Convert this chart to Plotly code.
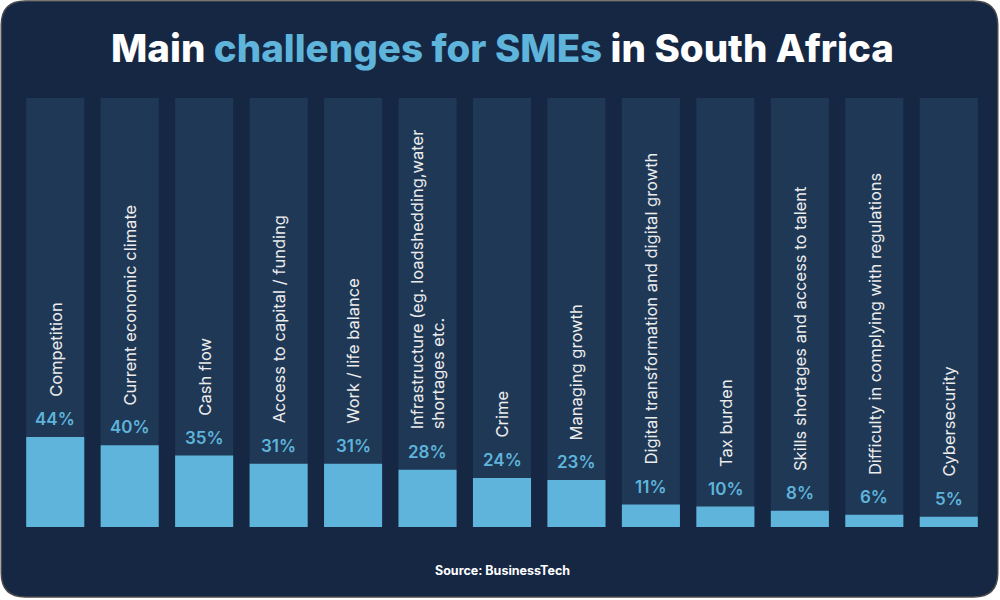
import plotly.graph_objects as go

categories = [
    "Competition",
    "Current economic climate",
    "Cash flow",
    "Access to capital / funding",
    "Work / life balance",
    "Infrastructure (eg. loadshedding,water<br>shortages etc.",
    "Crime",
    "Managing growth",
    "Digital transformation and digital growth",
    "Tax burden",
    "Skills shortages and access to talent",
    "Difficulty in complying with regulations",
    "Cybersecurity",
]
values = [44, 40, 35, 31, 31, 28, 24, 23, 11, 10, 8, 6, 5]
y_max = 210

W, H = 1000, 600
ML, MR, MT, MB = 17.75, 13.75, 98, 73
PW, PH = W - ML - MR, H - MT - MB

def px_x(X):
    return (X - ML) / PW

def px_y(Y):
    return (H - MB - Y) / PH

CARD = "#162744"
COL_BG = "#1f3856"
BAR = "#5eb4da"

x_idx = list(range(len(categories)))

fig = go.Figure()
fig.add_trace(go.Bar(x=x_idx, y=[y_max] * len(categories), marker_color=COL_BG,
                     marker_line_width=0, width=0.78, hoverinfo="skip"))
fig.add_trace(go.Bar(x=x_idx, y=values, marker_color=BAR, marker_line_width=0,
                     width=0.78, hovertext=categories))

# rounded card
x0, y0, x1, y1, r = 1, 1, 998, 597, 24
def P(X, Y):
    return f"{px_x(X):.5f},{px_y(Y):.5f}"
path = (f"M {P(x0 + r, y0)} L {P(x1 - r, y0)} Q {P(x1, y0)} {P(x1, y0 + r)} "
        f"L {P(x1, y1 - r)} Q {P(x1, y1)} {P(x1 - r, y1)} L {P(x0 + r, y1)} "
        f"Q {P(x0, y1)} {P(x0, y1 - r)} L {P(x0, y0 + r)} Q {P(x0, y0)} {P(x0 + r, y0)} Z")
fig.add_shape(type="path", path=path, xref="paper", yref="paper",
              fillcolor=CARD, line=dict(color="#4a4a4a", width=1.5), layer="below")

annotations = []
for i, (c, v) in enumerate(zip(categories, values)):
    annotations.append(dict(x=i, y=v, xref="x", yref="y", text=f"{v}%",
                            showarrow=False, yanchor="bottom", yshift=6,
                            font=dict(family="Inter", size=17, color=BAR, weight=600)))
    annotations.append(dict(x=i, y=v, xref="x", yref="y", text=c, textangle=-90,
                            showarrow=False, yanchor="bottom", yshift=38, align="left",
                            font=dict(family="Inter", size=16.5, color="#ececec")))

annotations.append(dict(x=0.5, y=px_y(48), xref="paper", yref="paper", showarrow=False,
                        text="Main <span style='color:#5eb4da'>challenges for SMEs</span> in South Africa",
                        font=dict(family="Inter", size=38.5, color="white", weight=800),
                        xanchor="center", yanchor="middle"))
annotations.append(dict(x=0.5, y=px_y(570), xref="paper", yref="paper", showarrow=False,
                        text="Source: BusinessTech",
                        font=dict(family="Inter", size=12.5, color="white", weight=700),
                        xanchor="center", yanchor="middle"))

fig.update_layout(
    width=W, height=H,
    margin=dict(l=ML, r=MR, t=MT, b=MB, pad=0),
    paper_bgcolor="white", plot_bgcolor="rgba(0,0,0,0)",
    barmode="overlay", showlegend=False,
    xaxis=dict(range=[-0.5, 12.5], visible=False, fixedrange=True),
    yaxis=dict(range=[0, y_max], visible=False, fixedrange=True),
    annotations=annotations,
)
fig.write_html("out.html", config={"displayModeBar": False})
